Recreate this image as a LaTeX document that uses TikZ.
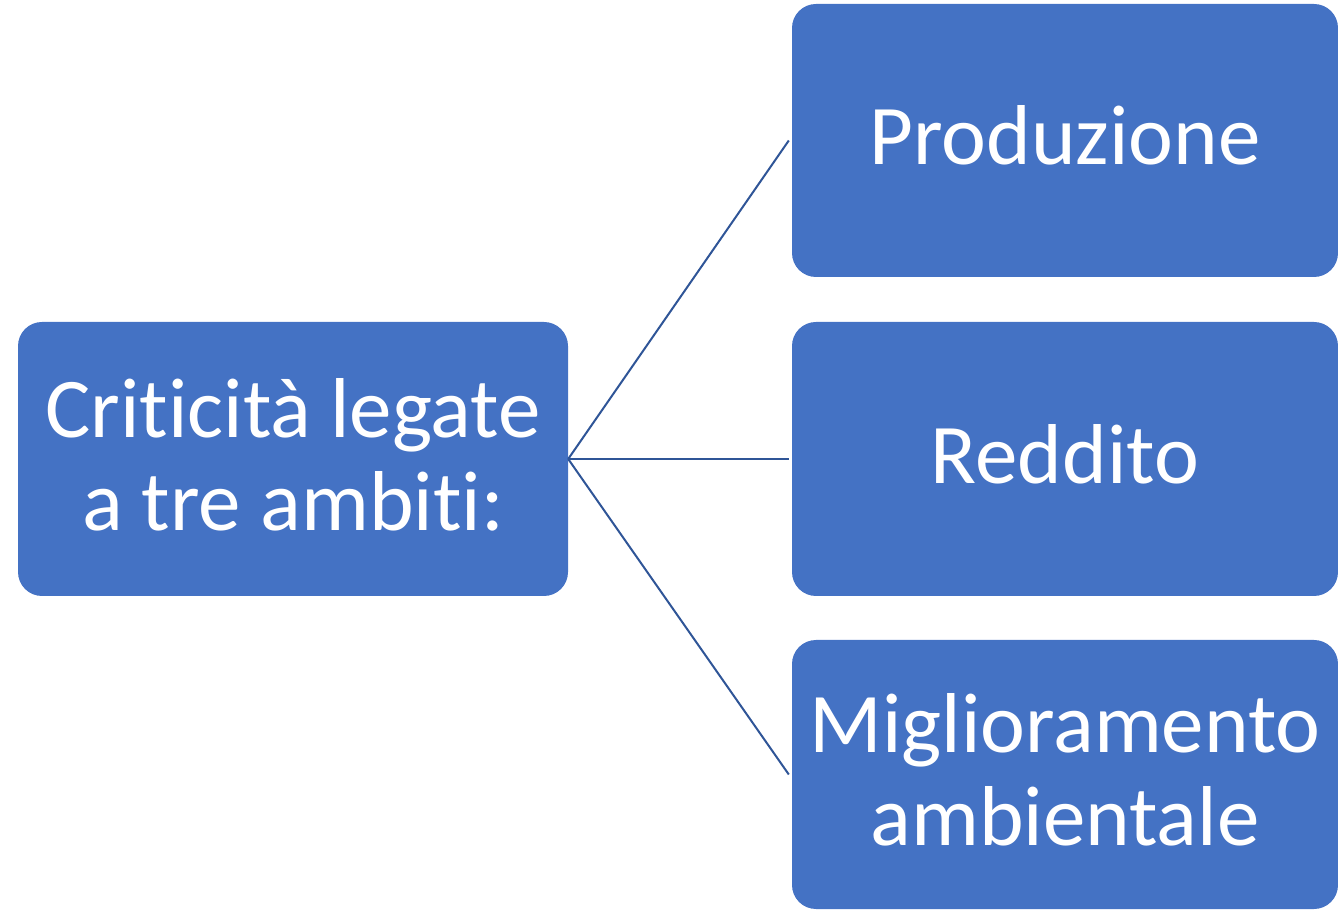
\documentclass[tikz,border=0pt]{standalone}
\usepackage{fontspec}
\setmainfont[Ligatures=NoCommon]{Carlito}
\definecolor{boxfill}{HTML}{4472C4}
\definecolor{linecol}{HTML}{2F5597}
\begin{document}
\begin{tikzpicture}[x=1pt,y=1pt,
  box/.style={fill=boxfill, rounded corners=24pt, text=white, align=center,
    font=\fontsize{85}{93}\selectfont, inner sep=0pt, text depth=10pt},
  conn/.style={draw=linecol, line width=2pt}]
\useasboundingbox (0,0) rectangle (1338,910);
\node[box, minimum width=550pt, minimum height=274pt] (L) at (293,451) {Criticità legate\\a tre ambiti:};
\node[box, minimum width=546pt, minimum height=273pt] (P) at (1065,769.5) {Produzione};
\node[box, minimum width=546pt, minimum height=274pt] (R) at (1065,451) {Reddito};
\node[box, minimum width=546pt, minimum height=269pt] (M) at (1065,135.5) {Miglioramento\\ambientale};
\coordinate (pP) at ([xshift=-3pt]P.west);
\coordinate (pR) at ([xshift=-3pt]R.west);
\coordinate (pM) at ([xshift=-3pt]M.west);
\draw[conn] (L.east) -- (pP);
\draw[conn] (L.east) -- (pR);
\draw[conn] (L.east) -- (pM);
\end{tikzpicture}
\end{document}
